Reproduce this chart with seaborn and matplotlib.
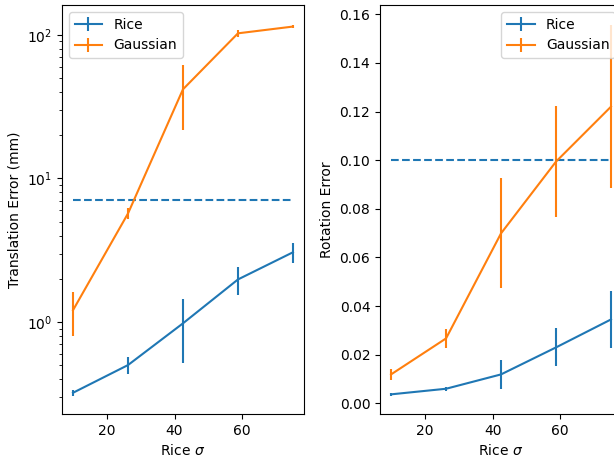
import numpy as np
import matplotlib
matplotlib.use('Agg')
import matplotlib.pyplot as plt
import seaborn as sns

rice_sigma = [10, 26.25, 42.5, 58.75, 75]

trans_rice = [0.322, 0.502, 0.98, 1.98, 3.06]
trans_rice_err = [0.015, 0.065, 0.46, 0.43, 0.5]
trans_gauss = [1.21, 5.70, 41.7, 102.3, 114.0]
trans_gauss_err = [0.41, 0.5, 20.0, 5.5, 2.0]
trans_thresh = 7.07

rot_rice = [0.0037, 0.0060, 0.0119, 0.0230, 0.0345]
rot_rice_err = [0.0005, 0.0008, 0.0059, 0.0078, 0.0117]
rot_gauss = [0.0119, 0.0267, 0.0699, 0.0994, 0.1220]
rot_gauss_err = [0.0023, 0.0038, 0.0226, 0.0227, 0.0334]
rot_thresh = 0.10

colors = sns.color_palette('tab10')

fig = plt.figure(figsize=(6.14, 4.57), dpi=100)
ax1 = fig.add_axes([0.101, 0.094, 0.394, 0.895])
ax2 = fig.add_axes([0.619, 0.094, 0.394, 0.895])

# translation
ax1.errorbar(rice_sigma, trans_rice, yerr=trans_rice_err, color=colors[0], label='Rice')
ax1.errorbar(rice_sigma, trans_gauss, yerr=trans_gauss_err, color=colors[1], label='Gaussian')
ax1.plot([rice_sigma[0], rice_sigma[-1]], [trans_thresh, trans_thresh], '--', color=colors[0])
ax1.set_yscale('log')
ax1.set_ylim(0.229, 161)
ax1.set_xlabel(r'Rice $\sigma$')
ax1.set_ylabel('Translation Error (mm)')
ax1.legend(loc='upper left')

# rotation
ax2.errorbar(rice_sigma, rot_rice, yerr=rot_rice_err, color=colors[0], label='Rice')
ax2.errorbar(rice_sigma, rot_gauss, yerr=rot_gauss_err, color=colors[1], label='Gaussian')
ax2.plot([rice_sigma[0], rice_sigma[-1]], [rot_thresh, rot_thresh], '--', color=colors[0])
ax2.set_ylim(-0.0044, 0.1638)
ax2.set_xlabel(r'Rice $\sigma$')
ax2.set_ylabel('Rotation Error')
ax2.legend(loc='upper right')

fig.savefig('out.png', dpi=100)
